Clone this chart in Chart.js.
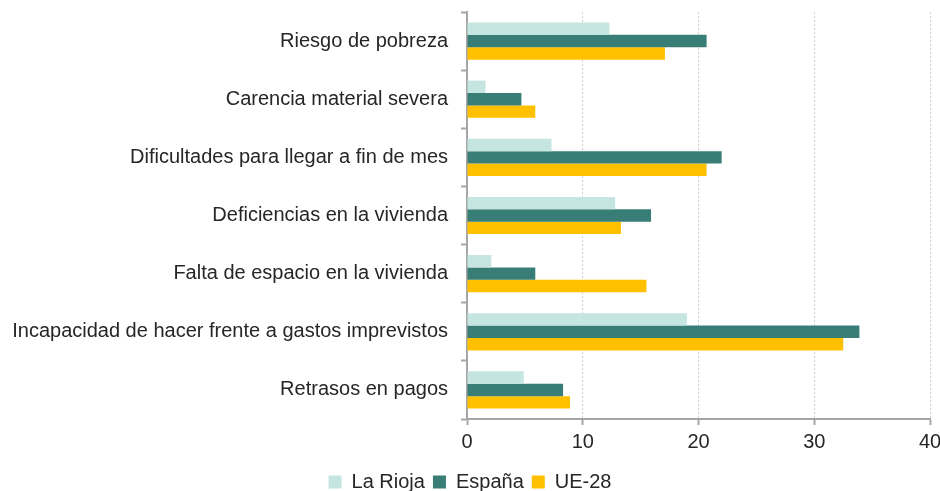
<!DOCTYPE html>
<html>
<head>
<meta charset="utf-8">
<script src="https://cdn.jsdelivr.net/npm/chart.js@4"></script>
<style>
  html, body { margin: 0; padding: 0; background: #fff; }
  #wrap { width: 940px; height: 491px; }
</style>
</head>
<body>
<div id="wrap"><canvas id="chart" width="940" height="491"></canvas></div>
<script>
// categories and values
const categories = [
  'Riesgo de pobreza',
  'Carencia material severa',
  'Dificultades para llegar a fin de mes',
  'Deficiencias en la vivienda',
  'Falta de espacio en la vivienda',
  'Incapacidad de hacer frente a gastos imprevistos',
  'Retrasos en pagos'
];
const laRioja = [12.3, 1.6, 7.3, 12.8, 2.1, 19.0, 4.9];
const espana  = [20.7, 4.7, 22.0, 15.9, 5.9, 33.9, 8.3];
const ue28    = [17.1, 5.9, 20.7, 13.3, 15.5, 32.5, 8.9];
const xTicks  = [0, 10, 20, 30, 40];

const axisGrey = '#a6a6a6';
const font = { family: 'Liberation Sans, Arial, sans-serif', size: 20 };

const ctx = document.getElementById('chart').getContext('2d');
new Chart(ctx, {
  type: 'bar',
  data: {
    labels: categories,
    datasets: [
      { label: 'La Rioja', data: laRioja, backgroundColor: '#c5e5e1' },
      { label: 'España', data: espana, backgroundColor: '#387e77' },
      { label: 'UE-28', data: ue28, backgroundColor: '#ffc000' }
    ]
  },
  options: {
    indexAxis: 'y',
    responsive: false,
    animation: false,
    categoryPercentage: 0.64,
    barPercentage: 1.0,
    layout: { padding: { top: 12, right: 0, left: 0, bottom: -11 } },
    plugins: {
      legend: {
        position: 'bottom',
        labels: {
          color: '#262626',
          font: { family: font.family, size: 20 },
          boxWidth: 13,
          boxHeight: 13,
          padding: 8
        }
      },
      tooltip: { enabled: false }
    },
    scales: {
      x: {
        min: 0,
        max: 40,
        afterBuildTicks: scale => { scale.ticks = xTicks.map(v => ({ value: v })); },
        afterFit: scale => { scale.height = 45; scale.paddingRight = 10; },
        ticks: { color: '#262626', font: font, padding: 5 },
        grid: {
          color: c => c.tick && c.tick.value === 0 ? 'rgba(0,0,0,0)' : '#d0d0d0',
          lineWidth: 1,
          tickColor: axisGrey,
          tickLength: 6,
          tickWidth: 2
        },
        border: { color: axisGrey, width: 2, dash: [2, 2] }
      },
      y: {
        afterFit: scale => { scale.width = 467; scale.paddingTop = 0; scale.paddingBottom = 0; },
        ticks: { color: '#262626', font: font, padding: 13 },
        grid: {
          offset: true,
          drawOnChartArea: false,
          tickColor: axisGrey,
          tickLength: 6,
          tickWidth: 2
        },
        border: { color: axisGrey, width: 2 }
      }
    }
  }
});
</script>
</body>
</html>
